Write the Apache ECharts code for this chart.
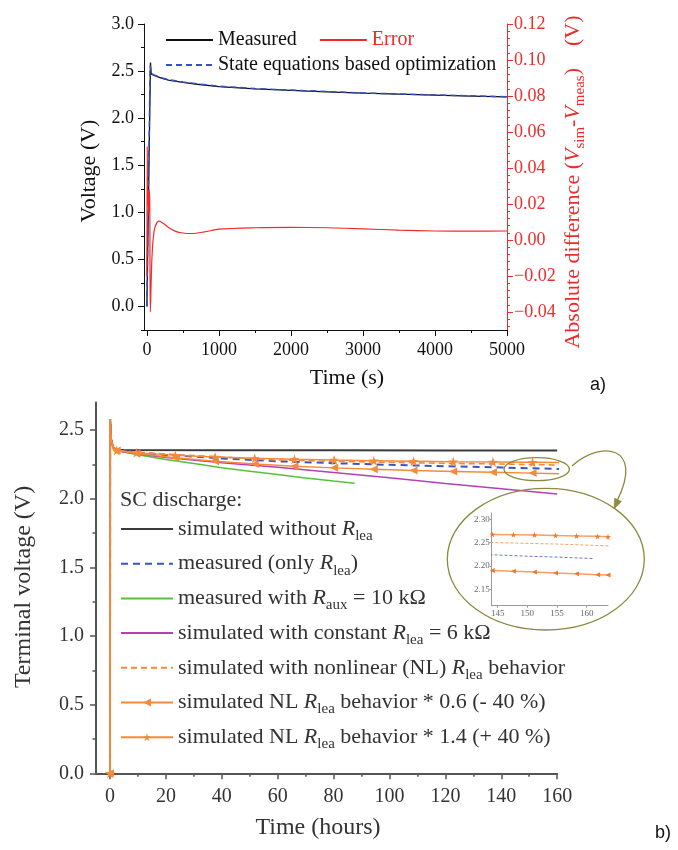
<!DOCTYPE html>
<html><head><meta charset="utf-8">
<script src="https://cdn.jsdelivr.net/npm/echarts@6/dist/echarts.min.js"></script>
<style>html,body{margin:0;padding:0;background:#fff}#c{width:678px;height:850px}</style>
</head><body><div id="c"></div>
<script>
const SERIF = 'Liberation Serif';
const SANS = 'Liberation Sans';

// ---------------- panel a) data ----------------
const aXTicks = [0, 1000, 2000, 3000, 4000, 5000];
const aXMinor = [500, 1500, 2500, 3500, 4500];
const aYTicks = [0, 0.5, 1, 1.5, 2, 2.5, 3];
const aYMinor = [-0.25, 0.25, 0.75, 1.25, 1.75, 2.25, 2.75];
const aY2Ticks = [-0.04, -0.02, 0, 0.02, 0.04, 0.06, 0.08, 0.1, 0.12];
const aY2Minor = [-0.048, -0.044, -0.036, -0.032, -0.028, -0.024, -0.016, -0.012, -0.008, -0.004,
  0.004, 0.008, 0.012, 0.016, 0.024, 0.028, 0.032, 0.036, 0.044, 0.048, 0.052, 0.056,
  0.064, 0.068, 0.072, 0.076, 0.084, 0.088, 0.092, 0.096, 0.104, 0.108, 0.112, 0.116];

const aMeasT = [0, 50, 60, 100, 200, 300, 500, 700, 1000, 1500, 2000, 2500, 3000, 3500, 4000, 4500, 5000];
const aMeasV = [0, 2.59, 2.47, 2.455, 2.425, 2.405, 2.38, 2.36, 2.335, 2.31, 2.295, 2.28, 2.265, 2.255, 2.245, 2.235, 2.225];
const aStateT = [0, 45, 60, 100, 200, 300, 500, 700, 1000, 1500, 2000, 2500, 3000, 3500, 4000, 4500, 5000];
const aStateV = [0, 2.56, 2.475, 2.46, 2.43, 2.41, 2.385, 2.364, 2.34, 2.314, 2.298, 2.283, 2.268, 2.257, 2.247, 2.237, 2.228];
const aErrT = [0, 5, 12, 18, 25, 32, 40, 48, 70, 100, 140, 171, 220, 300, 400, 500, 620, 800, 1000, 1500, 2000, 2500, 3000, 3500, 4000, 4500, 5000];
const aErrV = [-0.02, 0.052, 0.02, 0.028, 0.015, 0.028, 0.02, -0.04, -0.01, 0.005, 0.0098, 0.0105, 0.0095, 0.007, 0.0048, 0.0039, 0.0036, 0.0045, 0.006, 0.0068, 0.007, 0.0068, 0.0062, 0.0055, 0.005, 0.0049, 0.005];

// ---------------- panel b) data ----------------
const bXTicks = [0, 20, 40, 60, 80, 100, 120, 140, 160];
const bXMinor = [10, 30, 50, 70, 90, 110, 130, 150];
const bYTicks = [0, 0.5, 1, 1.5, 2, 2.5];
const bYMinor = [0.25, 0.75, 1.25, 1.75, 2.25];

const bBlackH = [0, 0.05, 0.4, 1.2, 2.5, 5, 40, 80, 120, 160];
const bBlackV = [0, 2.58, 2.43, 2.37, 2.356, 2.354, 2.353, 2.352, 2.351, 2.35];
const bBlueH = [0, 0.05, 0.4, 1.2, 2.5, 5, 10, 20, 40, 60, 80, 100, 120, 140, 145, 150, 155, 161];
const bBlueV = [0, 2.58, 2.43, 2.37, 2.352, 2.345, 2.335, 2.318, 2.293, 2.272, 2.258, 2.246, 2.236, 2.227, 2.2235, 2.221, 2.219, 2.216];
const bGreenH = [0, 0.05, 0.4, 1.2, 2.5, 5, 10, 20, 30, 40, 50, 60, 70, 80, 87.5];
const bGreenV = [0, 2.58, 2.43, 2.37, 2.35, 2.34, 2.32, 2.285, 2.255, 2.225, 2.2, 2.175, 2.15, 2.128, 2.112];
const bPurpleH = [0, 0.05, 0.4, 1.2, 2.5, 5, 10, 20, 40, 60, 80, 100, 120, 140, 160];
const bPurpleV = [0, 2.58, 2.43, 2.37, 2.35, 2.34, 2.325, 2.3, 2.262, 2.228, 2.19, 2.152, 2.11, 2.072, 2.034];
const bNLH = [0, 0.05, 0.4, 1.2, 2.5, 5, 10, 20, 40, 60, 80, 100, 120, 140, 145, 155, 164];
const bNLV = [0, 2.58, 2.43, 2.37, 2.352, 2.346, 2.338, 2.325, 2.303, 2.281, 2.272, 2.264, 2.257, 2.252, 2.25, 2.247, 2.243];
const bMarkH = [0, 0.05, 0.4, 1.2, 2.4, 9.5, 23.4, 37.6, 51.8, 66.0, 80.2, 94.4, 108.6, 122.8, 137.0, 151.2, 163.6];
const bTriV = [0, 2.58, 2.43, 2.37, 2.35, 2.328, 2.298, 2.272, 2.252, 2.236, 2.224, 2.214, 2.205, 2.198, 2.192, 2.186, 2.18];
const bStarV = [0, 2.58, 2.43, 2.37, 2.35, 2.335, 2.315, 2.303, 2.294, 2.287, 2.281, 2.276, 2.272, 2.269, 2.267, 2.265, 2.2625];

// inset (zoom 144-164 h)
const insetXTicks = [145, 150, 155, 160];
const insetYTicks = [2.15, 2.2, 2.25, 2.3];
const insetH = [144.1, 147.65, 151.2, 154.75, 158.3, 161.85, 163.6];
const insetStarV = [2.2675, 2.267, 2.2663, 2.2655, 2.2645, 2.2635, 2.2625];
const insetTriV = [2.1905, 2.189, 2.187, 2.185, 2.1835, 2.1815, 2.1805];

const bNames = [
  'simulated without R_lea',
  'measured (only R_lea)',
  'measured with R_aux = 10 kΩ',
  'simulated with constant R_lea = 6 kΩ',
  'simulated with nonlinear (NL) R_lea behavior',
  'simulated NL R_lea behavior * 0.6 (- 40 %)',
  'simulated NL R_lea behavior * 1.4 (+ 40 %)'
];
const bLegendText = {};
bNames.forEach(n => {
  bLegendText[n] = n.replace(/R_(lea|aux)/g, '{it|R}{sub|$1}');
});

const STAR = 'path://M50,0L61.2,34.5L97.6,34.5L68.2,55.9L79.4,90.5L50,69.1L20.6,90.5L31.8,55.9L2.4,34.5L38.8,34.5Z';
const TRI = 'path://M0,5L10,0L10,10Z';
const ORANGE = '#F7893A';
const OLIVE = '#8C8A3E';
const HIDE = { opacity: 0 };

function pairs(xs, ys) { return xs.map((x, i) => [x, ys[i]]); }
function marked(xs, ys, sym) {
  return xs.map((x, i) => ({ value: [x, ys[i]], symbol: (x > 0 && x < 2) ? 'none' : sym }));
}

function axis(o) {
  return {
    type: 'value', gridIndex: o.grid, position: o.pos, min: o.min, max: o.max,
    axisLine: { show: !!o.line, onZero: false, lineStyle: { color: o.color, width: o.lw || 1 } },
    axisTick: { show: true, inside: false, length: o.tickLen, customValues: o.ticks, lineStyle: { color: o.color, width: o.tw || 1 } },
    axisLabel: o.fmt ? { show: true, customValues: o.ticks, margin: o.margin, fontFamily: SERIF, fontSize: o.fs, color: o.labelColor || o.color, formatter: o.fmt }
                     : { show: false },
    splitLine: { show: false }, minorTick: { show: false }, name: ''
  };
}

const chart = echarts.init(document.getElementById('c'));

const option = {
  animation: false,
  backgroundColor: '#fff',
  textStyle: { fontFamily: SERIF },
  grid: [
    { left: 144, top: 24, width: 363, height: 306 },
    { left: 96, top: 402.5, width: 461.2, height: 370.8 },
    { left: 491.7, top: 513, width: 116.3, height: 92.7 }
  ],
  xAxis: [
    axis({ grid: 0, pos: 'bottom', min: -40, max: 5000, ticks: aXTicks, line: true, color: '#111', tickLen: 6, margin: 11, fs: 18, fmt: v => String(v) }),
    axis({ grid: 0, pos: 'bottom', min: -40, max: 5000, ticks: aXMinor, color: '#111', tickLen: 3 }),
    axis({ grid: 1, pos: 'bottom', min: -5, max: 160, ticks: bXTicks, line: true, color: '#555', lw: 2, tw: 1.5, tickLen: 6, margin: 13, fs: 20, labelColor: '#333', fmt: v => String(v) }),
    axis({ grid: 1, pos: 'bottom', min: -5, max: 160, ticks: bXMinor, color: '#555', tw: 1.5, tickLen: 3.5 }),
    axis({ grid: 2, pos: 'bottom', min: 144, max: 163.6, ticks: insetXTicks, line: true, color: '#9a9a9a', tickLen: 2, margin: 3, fs: 9, labelColor: '#666', fmt: v => String(v) })
  ],
  yAxis: [
    axis({ grid: 0, pos: 'left', min: -0.25, max: 3.0, ticks: aYTicks, line: true, color: '#111', tickLen: 6, margin: 10, fs: 18, fmt: v => v.toFixed(1) }),
    axis({ grid: 0, pos: 'left', min: -0.25, max: 3.0, ticks: aYMinor, color: '#111', tickLen: 3 }),
    axis({ grid: 0, pos: 'right', min: -0.05, max: 0.12, ticks: aY2Ticks, line: true, color: '#EE2B2B', tickLen: 6, margin: 7, fs: 18, fmt: v => (v < 0 ? '\u2212' : '') + Math.abs(v).toFixed(2) }),
    axis({ grid: 0, pos: 'right', min: -0.05, max: 0.12, ticks: aY2Minor, color: '#EE2B2B', tickLen: 3 }),
    axis({ grid: 1, pos: 'left', min: 0, max: 2.7, ticks: bYTicks, line: true, color: '#555', lw: 2, tw: 1.5, tickLen: 6, margin: 12, fs: 20, labelColor: '#333', fmt: v => v.toFixed(1) }),
    axis({ grid: 1, pos: 'left', min: 0, max: 2.7, ticks: bYMinor, color: '#555', tw: 1.5, tickLen: 3.5 }),
    axis({ grid: 2, pos: 'left', min: 2.115, max: 2.3135, ticks: insetYTicks, line: true, color: '#9a9a9a', tickLen: 2, margin: 2, fs: 9, labelColor: '#666', fmt: v => v.toFixed(2) })
  ],
  legend: [
    { left: 160, top: 24, itemWidth: 47, itemHeight: 12, itemGap: 22, selectedMode: false,
      textStyle: { fontFamily: SERIF, fontSize: 20, color: '#111', lineHeight: 22 },
      data: [{ name: 'Measured', itemStyle: HIDE }, { name: 'Error', itemStyle: HIDE, textStyle: { color: '#EE2B2B' } }] },
    { left: 160, top: 49, itemWidth: 47, itemHeight: 12, selectedMode: false,
      textStyle: { fontFamily: SERIF, fontSize: 20, color: '#111', lineHeight: 22 },
      data: [{ name: 'State equations based optimization', itemStyle: HIDE }] },
    { left: 115, top: 509, orient: 'vertical', itemWidth: 52, itemHeight: 10, itemGap: 4.7, selectedMode: false,
      data: bNames.map((n, i) => i < 5 ? { name: n, itemStyle: HIDE } : n),
      formatter: n => bLegendText[n],
      textStyle: { fontFamily: SERIF, fontSize: 22, color: '#333', lineHeight: 30,
        rich: {
          it: { fontFamily: SERIF, fontSize: 22, fontStyle: 'italic', color: '#333', lineHeight: 30 },
          sub: { fontFamily: SERIF, fontSize: 15, color: '#333', lineHeight: 14, padding: [14, 0, 0, 0] }
        } } }
  ],
  series: [
    // panel a
    { name: 'Measured', type: 'line', xAxisIndex: 0, yAxisIndex: 0, data: pairs(aMeasT, aMeasV), symbol: 'none',
      lineStyle: { color: '#111', width: 1.3 }, itemStyle: { color: '#111' } },
    { name: 'State equations based optimization', type: 'line', xAxisIndex: 0, yAxisIndex: 0, data: pairs(aStateT, aStateV), symbol: 'none',
      lineStyle: { color: '#3350C4', width: 1.5, type: [6, 4] }, itemStyle: { color: '#3350C4' } },
    { name: 'Error', type: 'line', xAxisIndex: 0, yAxisIndex: 2, data: pairs(aErrT, aErrV), symbol: 'none', smooth: 0.3,
      lineStyle: { color: '#F22A2A', width: 1.2 }, itemStyle: { color: '#F22A2A' } },
    // panel b
    { name: bNames[0], type: 'line', xAxisIndex: 2, yAxisIndex: 4, data: pairs(bBlackH, bBlackV), symbol: 'none',
      lineStyle: { color: '#3a3a3a', width: 2 }, itemStyle: { color: '#3a3a3a' } },
    { name: bNames[1], type: 'line', xAxisIndex: 2, yAxisIndex: 4, data: pairs(bBlueH, bBlueV), symbol: 'none',
      lineStyle: { color: '#3A55C0', width: 2, type: [7, 5] }, itemStyle: { color: '#3A55C0' } },
    { name: bNames[2], type: 'line', xAxisIndex: 2, yAxisIndex: 4, data: pairs(bGreenH, bGreenV), symbol: 'none',
      lineStyle: { color: '#55C23A', width: 1.5 }, itemStyle: { color: '#55C23A' } },
    { name: bNames[3], type: 'line', xAxisIndex: 2, yAxisIndex: 4, data: pairs(bPurpleH, bPurpleV), symbol: 'none',
      lineStyle: { color: '#B540B5', width: 1.5 }, itemStyle: { color: '#B540B5' } },
    { name: bNames[4], type: 'line', xAxisIndex: 2, yAxisIndex: 4, data: pairs(bNLH, bNLV), symbol: 'none',
      lineStyle: { color: ORANGE, width: 1.6, type: [6, 4] }, itemStyle: { color: ORANGE } },
    { name: bNames[5], type: 'line', xAxisIndex: 2, yAxisIndex: 4, data: marked(bMarkH, bTriV, TRI), symbol: TRI, symbolSize: 8, showAllSymbol: true,
      lineStyle: { color: ORANGE, width: 1.4 }, itemStyle: { color: ORANGE } },
    { name: bNames[6], type: 'line', xAxisIndex: 2, yAxisIndex: 4, data: marked(bMarkH, bStarV, STAR), symbol: STAR, symbolSize: 10, showAllSymbol: true,
      lineStyle: { color: ORANGE, width: 1.4 }, itemStyle: { color: ORANGE } },
    // inset
    { name: 'inset NL', type: 'line', xAxisIndex: 4, yAxisIndex: 6, data: pairs(bNLH, bNLV), symbol: 'none',
      lineStyle: { color: '#F9A060', width: 1, type: [3, 2] } },
    { name: 'inset measured', type: 'line', xAxisIndex: 4, yAxisIndex: 6, data: pairs(bBlueH, bBlueV), symbol: 'none',
      lineStyle: { color: '#6A78D0', width: 1, type: [3, 2] } },
    { name: 'inset star', type: 'line', xAxisIndex: 4, yAxisIndex: 6, data: pairs(insetH, insetStarV), symbol: STAR, symbolSize: 6, showAllSymbol: true,
      lineStyle: { color: '#F9A060', width: 1.5 }, itemStyle: { color: '#F07A2A' } },
    { name: 'inset tri', type: 'line', xAxisIndex: 4, yAxisIndex: 6, data: pairs(insetH, insetTriV), symbol: TRI, symbolSize: 5, showAllSymbol: true,
      lineStyle: { color: '#F9A060', width: 1.5 }, itemStyle: { color: '#F07A2A' } }
  ],
  graphic: [
    { type: 'text', x: 89, y: 171, rotation: Math.PI / 2,
      style: { text: 'Voltage (V)', fontFamily: SERIF, fontSize: 22, fill: '#111', align: 'center', verticalAlign: 'middle' } },
    { type: 'text', x: 347, y: 378,
      style: { text: 'Time (s)', fontFamily: SERIF, fontSize: 22, fill: '#111', align: 'center', verticalAlign: 'middle' } },
    { type: 'text', x: 573, y: 182, rotation: Math.PI / 2,
      style: { text: 'Absolute difference ({i|V}{s|sim}-{i|V}{s|meas})    (V)', fontFamily: SERIF, fontSize: 22, fill: '#EE2B2B', align: 'center', verticalAlign: 'middle',
        rich: { i: { fontFamily: SERIF, fontSize: 22, fontStyle: 'italic', fill: '#EE2B2B', lineHeight: 28 },
                s: { fontFamily: SERIF, fontSize: 15, fill: '#EE2B2B', lineHeight: 14, padding: [14, 0, 0, 0] } } } },
    { type: 'text', x: 590, y: 385,
      style: { text: 'a)', fontFamily: SANS, fontSize: 18, fill: '#111', align: 'left', verticalAlign: 'middle' } },
    { type: 'text', x: 24, y: 587, rotation: Math.PI / 2,
      style: { text: 'Terminal voltage (V)', fontFamily: SERIF, fontSize: 24, fill: '#333', align: 'center', verticalAlign: 'middle' } },
    { type: 'text', x: 318, y: 828,
      style: { text: 'Time (hours)', fontFamily: SERIF, fontSize: 24, fill: '#333', align: 'center', verticalAlign: 'middle' } },
    { type: 'text', x: 655, y: 833,
      style: { text: 'b)', fontFamily: SANS, fontSize: 18, fill: '#111', align: 'left', verticalAlign: 'middle' } },
    { type: 'text', x: 120, y: 500,
      style: { text: 'SC discharge:', fontFamily: SERIF, fontSize: 22, fill: '#333', align: 'left', verticalAlign: 'middle' } },
    { type: 'ellipse', shape: { cx: 536.7, cy: 469.2, rx: 32.7, ry: 11.5 }, style: { fill: 'none', stroke: OLIVE, lineWidth: 1.3 }, z: 10 },
    { type: 'ellipse', shape: { cx: 545.8, cy: 559.2, rx: 98.5, ry: 70.8 }, style: { fill: 'none', stroke: OLIVE, lineWidth: 1.3 }, z: 10 },
    { type: 'bezierCurve', shape: { x1: 572, y1: 466, cpx1: 600, cpy1: 440, cpx2: 645, cpy2: 445, x2: 617, y2: 501 }, style: { fill: 'none', stroke: OLIVE, lineWidth: 1.3 }, z: 10 },
    { type: 'polygon', shape: { points: [[614, 509], [621.5, 501.5], [614.5, 498]] }, style: { fill: OLIVE, stroke: OLIVE, lineWidth: 0.5 }, z: 10 }
  ]
};
chart.setOption(option);
</script>
</body></html>
